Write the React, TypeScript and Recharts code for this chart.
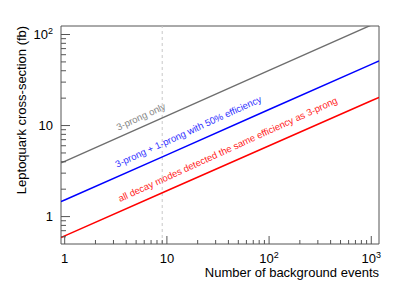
import { LineChart, Line, XAxis, YAxis, ReferenceLine, ReferenceArea, ReferenceDot } from 'recharts';

// background events (x) and limits in fb for the three scenarios
const events = [0.92, 1, 10, 100, 1000, 1190];
const threeProngOnly = [3.89, 4.05, 12.8, 40.3, 127, 139];
const threeProngPlusOneProng = [1.46, 1.52, 4.76, 15.0, 47.0, 51.3];
const allDecayModes = [0.59, 0.614, 1.92, 6.0, 18.7, 20.4];

const xMajorTicks = [1, 10, 100, 1000];
const xMinorTicks = [2, 3, 4, 5, 6, 7, 8, 9, 20, 30, 40, 50, 60, 70, 80, 90, 200, 300, 400, 500, 600, 700, 800, 900];
const yMajorTicks = [1, 10, 100];
const yMinorTicks = [0.6, 0.7, 0.8, 0.9, 2, 3, 4, 5, 6, 7, 8, 9, 20, 30, 40, 50, 60, 70, 80, 90];

const cutEvents = 9;

const lineLabels = [
  { text: '3-prong only', x: 5.9, y: 10.8, color: '#858585' },
  { text: '3-prong + 1-prong with 50% efficiency', x: 17.2, y: 7.43, color: '#3030ff' },
  { text: 'all decay modes detected the same efficiency as 3-prong', x: 41.8, y: 4.73, color: '#ff2020' },
];

const data = events.map((e, i) => ({
  events: e,
  threeProngOnly: threeProngOnly[i],
  threeProngPlusOneProng: threeProngPlusOneProng[i],
  allDecayModes: allDecayModes[i],
}));

const FONT = '"Liberation Sans", Arial, Helvetica, sans-serif';
const AXIS = '#555';

const tickText = (v: number) => {
  const exp = Math.round(Math.log10(v));
  if (exp <= 1) return String(v);
  return [
    <tspan key="b">10</tspan>,
    <tspan key="e" dy={-5} fontSize={9}>{exp}</tspan>,
  ];
};

const XTick = (props: any) => {
  const { x, y, payload } = props;
  const major = xMajorTicks.includes(payload.value);
  return (
    <g>
      <line x1={x} x2={x} y1={y} y2={y - (major ? 8 : 4)} stroke={AXIS} />
      {major && (
        <text x={x} y={y + 19} textAnchor="middle" fontSize={13} fontFamily={FONT} fill="#000">
          {tickText(payload.value)}
        </text>
      )}
    </g>
  );
};

const YTick = (props: any) => {
  const { x, y, payload } = props;
  const major = yMajorTicks.includes(payload.value);
  return (
    <g>
      <line x1={x} x2={x + (major ? 9 : 5)} y1={y} y2={y} stroke={AXIS} />
      {major && (
        <text x={x - 8} y={y} dy="0.35em" textAnchor="end" fontSize={13} fontFamily={FONT} fill="#000">
          {tickText(payload.value)}
        </text>
      )}
    </g>
  );
};

const App = () => {
  return (
    <div style={{ position: 'absolute', left: 0, top: 0, width: 399, height: 288, background: '#fff' }}>
      <LineChart width={399} height={288} data={data} margin={{ top: 26, right: 20, left: 1, bottom: 0 }}>
        <XAxis
          dataKey="events"
          type="number"
          scale="log"
          domain={[0.92, 1190]}
          allowDataOverflow
          ticks={[...xMajorTicks, ...xMinorTicks]}
          interval={0}
          tick={<XTick />}
          tickLine={false}
          axisLine={false}
          tickSize={0}
          tickMargin={0}
          height={44}
          label={(p: any) => {
            const vb = p.viewBox || { x: 61, y: 244, width: 318 };
            return (
              <text x={vb.x + vb.width} y={vb.y + 33} textAnchor="end" fontSize={13} fontFamily={FONT} fill="#000">
                Number of background events
              </text>
            );
          }}
        />
        <YAxis
          type="number"
          scale="log"
          domain={[0.5, 124]}
          allowDataOverflow
          ticks={[...yMajorTicks, ...yMinorTicks]}
          interval={0}
          tick={<YTick />}
          tickLine={false}
          axisLine={false}
          tickSize={0}
          tickMargin={0}
          width={60}
          label={() => (
            <text x={26} y={110} transform="rotate(-90 26 110)" textAnchor="middle" fontSize={13} fontFamily={FONT} fill="#000">
              Leptoquark cross-section (fb)
            </text>
          )}
        />
        <ReferenceLine x={cutEvents} stroke="#c8c8c8" strokeDasharray="3 3" />
        <Line dataKey="threeProngOnly" stroke="#6e6e6e" strokeWidth={1.4} dot={false} isAnimationActive={false} />
        <Line dataKey="threeProngPlusOneProng" stroke="#0000ff" strokeWidth={1.5} dot={false} isAnimationActive={false} />
        <Line dataKey="allDecayModes" stroke="#ff0000" strokeWidth={1.5} dot={false} isAnimationActive={false} />
        <ReferenceArea x1={0.92} x2={1190} y1={0.5} y2={124} fill="none" stroke={AXIS} ifOverflow="visible" />
        {lineLabels.map((l) => (
          <ReferenceDot
            key={l.text}
            x={l.x}
            y={l.y}
            r={0}
            shape={(p: any) => (
              <text
                x={p.cx}
                y={p.cy}
                dy={-3}
                textAnchor="middle"
                transform={`rotate(-24.5 ${p.cx} ${p.cy})`}
                fontSize={9.5}
                fontFamily={FONT}
                fill={l.color}
              >
                {l.text}
              </text>
            )}
          />
        ))}
      </LineChart>
    </div>
  );
};

export default App;
